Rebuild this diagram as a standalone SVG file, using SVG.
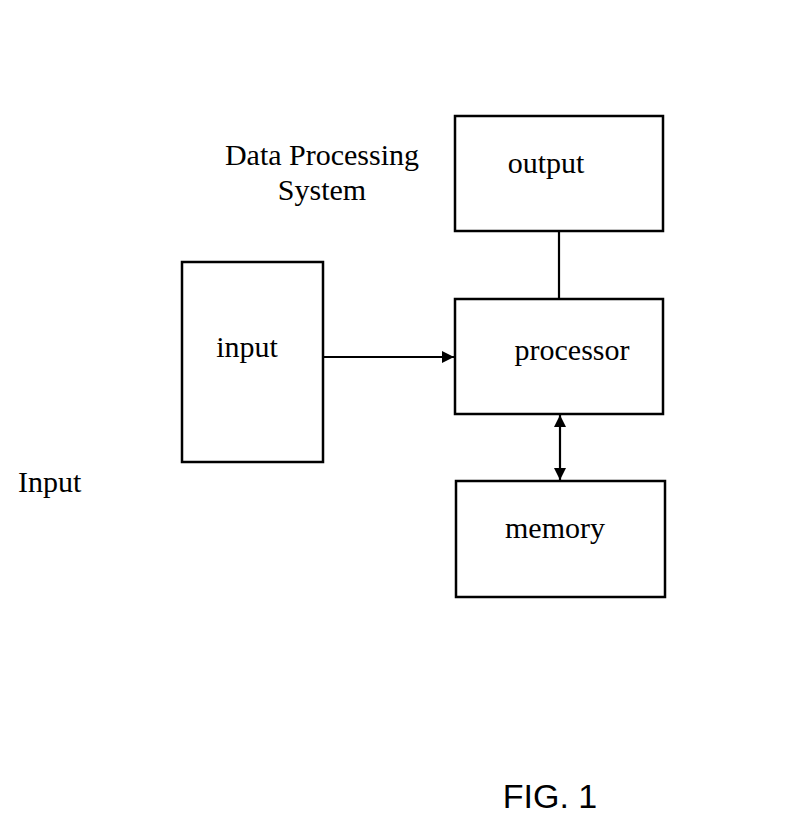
<svg xmlns="http://www.w3.org/2000/svg" width="811" height="823" viewBox="0 0 811 823">
<defs>
<style>
.box{fill:none;stroke:#000;stroke-width:2.5}
.ln{fill:none;stroke:#000;stroke-width:2.2}
.t{font-family:"Liberation Serif","Times New Roman",serif;font-size:30px;fill:#000}
.s{font-family:"Liberation Sans",Arial,sans-serif;font-size:34px;fill:#000}
</style>
<marker id="ah" viewBox="0 0 10 10" refX="10" refY="5" markerWidth="12" markerHeight="12" markerUnits="userSpaceOnUse" orient="auto-start-reverse">
<path d="M0,0 L10,5 L0,10 z" fill="#000"/>
</marker>
</defs>
<rect width="811" height="823" fill="#fff"/>
<text class="t" x="322" y="165" text-anchor="middle">Data Processing</text>
<text class="t" x="322" y="200" text-anchor="middle">System</text>
<text class="t" x="18" y="492">Input</text>
<g id="output"><rect class="box" x="455" y="116" width="208" height="115"/><text class="t" x="546" y="173" text-anchor="middle">output</text></g>
<g id="processor"><rect class="box" x="455" y="299" width="208" height="115"/><text class="t" x="572" y="360" text-anchor="middle">processor</text></g>
<g id="input"><rect class="box" x="182" y="262" width="141" height="200"/><text class="t" x="247" y="357" text-anchor="middle">input</text></g>
<g id="memory"><rect class="box" x="456" y="481" width="209" height="116"/><text class="t" x="555" y="538" text-anchor="middle">memory</text></g>
<g id="connectors">
<line class="ln" x1="559" y1="231" x2="559" y2="299"/>
<line class="ln" x1="323" y1="357" x2="454" y2="357" marker-end="url(#ah)"/>
<line class="ln" x1="560" y1="415" x2="560" y2="480" marker-start="url(#ah)" marker-end="url(#ah)"/>
</g>
<text class="s" x="550" y="808" text-anchor="middle">FIG. 1</text>
</svg>
